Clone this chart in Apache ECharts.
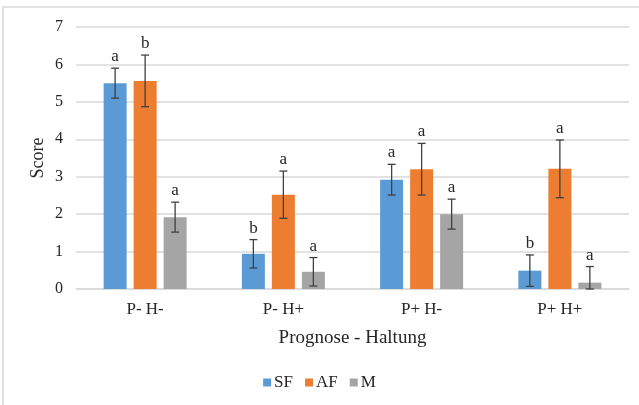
<!DOCTYPE html>
<html><head><meta charset="utf-8">
<script src="https://cdn.jsdelivr.net/npm/echarts@6/dist/echarts.min.js"></script>
<style>html,body{margin:0;padding:0;background:#fff}#c{width:639px;height:405px}</style>
</head><body><div id="c"></div>
<script>
const categories = ['P- H-', 'P- H+', 'P+ H-', 'P+ H+'];
const seriesNames = ['SF', 'AF', 'M'];
const sfValues = [5.5, 0.94, 2.92, 0.49];
const afValues = [5.56, 2.52, 3.2, 3.21];
const mValues = [1.92, 0.46, 2.0, 0.17];
const sfErr = [0.4, 0.38, 0.41, 0.42];
const afErr = [0.69, 0.63, 0.69, 0.77];
const mErr = [0.4, 0.38, 0.4, 0.43];
const sfLetters = ['a', 'b', 'a', 'b'];
const afLetters = ['b', 'a', 'a', 'a'];
const mLetters = ['a', 'a', 'a', 'a'];
const yTicks = [0, 1, 2, 3, 4, 5, 6, 7];

const colors = ['#5b9bd5', '#ed7d31', '#a5a5a5'];
const values = [sfValues, afValues, mValues];
const errs = [sfErr, afErr, mErr];
const letters = [sfLetters, afLetters, mLetters];
const FONT = '"Liberation Serif", "DejaVu Serif", serif';
const BAR_W = 23, GAP = 7;

const chart = echarts.init(document.getElementById('c'), null, {renderer: 'canvas'});

const series = [];
seriesNames.forEach((n, i) => {
  series.push({
    name: n, type: 'bar', data: values[i], barWidth: BAR_W, barGap: (GAP / BAR_W * 100) + '%',
    itemStyle: {color: colors[i]}
  });
});
seriesNames.forEach((n, i) => {
  const offset = (i - 1) * (BAR_W + GAP);
  series.push({
    type: 'custom', name: n + '_err', silent: true, z: 10,
    data: values[i].map((v, k) => [k, Math.max(0, v - errs[i][k]), v + errs[i][k]]),
    renderItem: function (params, api) {
      const lo = api.coord([api.value(0), api.value(1)]);
      const hi = api.coord([api.value(0), api.value(2)]);
      const x = lo[0] + offset;
      const cap = 4;
      const st = {stroke: '#404040', lineWidth: 1.3};
      return {type: 'group', children: [
        {type: 'line', shape: {x1: x, y1: lo[1], x2: x, y2: hi[1]}, style: st},
        {type: 'line', shape: {x1: x - cap, y1: lo[1], x2: x + cap, y2: lo[1]}, style: st},
        {type: 'line', shape: {x1: x - cap, y1: hi[1], x2: x + cap, y2: hi[1]}, style: st},
        {type: 'text', style: {text: letters[i][params.dataIndex], x: x, y: hi[1] - 3,
          textAlign: 'center', textVerticalAlign: 'bottom', font: '17px ' + FONT, fill: '#262626'}}
      ]};
    },
    encode: {x: 0, y: [1, 2]}
  });
});

chart.setOption({
  animation: false,
  backgroundColor: '#fff',
  textStyle: {fontFamily: FONT},
  graphic: [
    {type: 'rect', shape: {x: 3, y: 7, width: 700, height: 500},
      style: {fill: 'none', stroke: '#d9d9d9', lineWidth: 1.5}, silent: true},
    {type: 'text', x: 38, y: 158, rotation: Math.PI / 2,
      style: {text: 'Score', font: '18px ' + FONT, fill: '#262626', textAlign: 'center', textVerticalAlign: 'middle'}}
  ],
  grid: {left: 76, right: 10, top: 27, bottom: 116},
  legend: {
    data: seriesNames.map(n => ({name: n, icon: 'rect'})),
    top: 374, left: 'center', padding: 0, itemWidth: 8, itemHeight: 8, itemGap: 12,
    textStyle: {fontFamily: FONT, fontSize: 17, color: '#262626', padding: [0, 0, 0, -2]}
  },
  xAxis: {
    type: 'category', data: categories,
    name: 'Prognose - Haltung', nameLocation: 'middle', nameGap: 40,
    nameTextStyle: {fontFamily: FONT, fontSize: 19, color: '#262626'},
    axisLine: {lineStyle: {color: '#d9d9d9', width: 1.5}},
    axisTick: {show: false},
    axisLabel: {fontFamily: FONT, fontSize: 17, color: '#262626', margin: 12}
  },
  yAxis: {
    type: 'value', min: 0, max: 7, interval: 1,
    axisLine: {show: false}, axisTick: {show: false},
    axisLabel: {fontFamily: FONT, fontSize: 16, color: '#262626', margin: 13,
      formatter: v => yTicks.includes(v) ? String(v) : ''},
    splitLine: {lineStyle: {color: '#d9d9d9', width: 1.5}}
  },
  series: series
});
</script></body></html>
